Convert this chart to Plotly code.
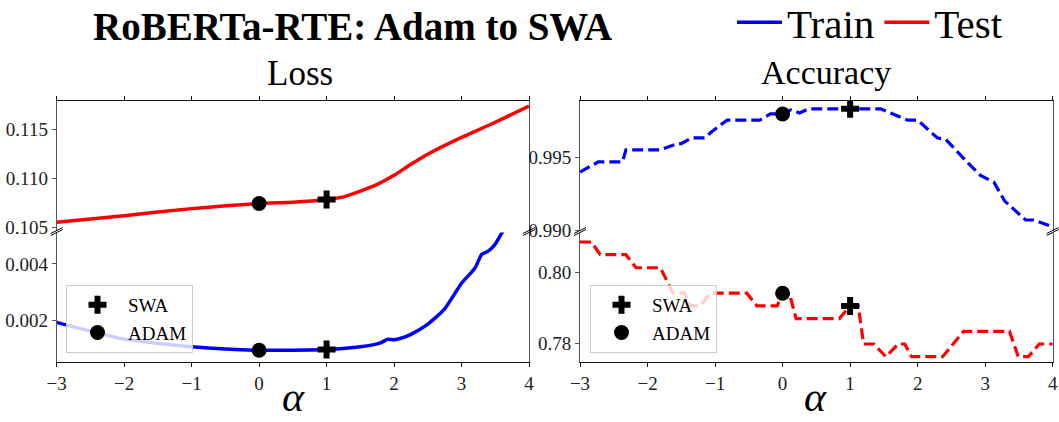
import plotly.graph_objects as go

# ---------------- data ----------------
loss_test_alpha = [-3, -2, -1, 0, 0.5, 1, 1.25, 1.5, 1.75, 2, 2.25, 2.5, 3, 3.5, 4]
loss_test = [0.10555, 0.10623, 0.10695, 0.10747, 0.10760, 0.10788, 0.10815, 0.10873,
             0.10942, 0.11034, 0.11147, 0.11250, 0.11421, 0.11575, 0.11740]

loss_train_alpha = [-3, -2.5, -2, -1.5, -1, -0.5, 0, 0.5, 1, 1.5, 1.8, 1.9, 2.0, 2.1,
                    2.25, 2.5, 2.75, 3.0, 3.2, 3.3, 3.4, 3.5, 3.6, 3.8, 4.0]
loss_train = [0.00194, 0.00163, 0.00135, 0.00120, 0.00108, 0.00100, 0.00096, 0.00096,
              0.00098, 0.00108, 0.00122, 0.00134, 0.00133, 0.00138, 0.00152, 0.00188,
              0.00242, 0.00332, 0.00386, 0.00434, 0.00446, 0.00470, 0.00510, 0.00570,
              0.00640]

acc_train_alpha = [-3, -2.73, -2.37, -2.32, -1.81, -1.56, -1.50, -1.35, -1.15, -1.05,
                   -0.82, -0.34, -0.18, 0, 0.12, 0.25, 0.38, 1.0, 1.45, 1.85, 2.0, 2.29,
                   2.42, 2.73, 2.93, 3.13, 3.29, 3.6, 3.72, 4.0]
acc_train = [0.99399, 0.99469, 0.99469, 0.99552, 0.99552, 0.99594, 0.99594, 0.99634,
             0.99634, 0.99676, 0.99756, 0.99756, 0.99798, 0.99798, 0.99826, 0.99805,
             0.99833, 0.99833, 0.99833, 0.99756, 0.99756, 0.99634, 0.99622, 0.99469,
             0.99376, 0.99329, 0.99200, 0.99070, 0.99070, 0.99023]

acc_test_alpha = [-3, -2.83, -2.70, -2.32, -2.17, -1.81, -1.62, -1.45, -1.37, -1.22,
                  -1.07, -0.53, -0.38, -0.08, 0, 0.10, 0.20, 0.84, 1.0, 1.12, 1.20,
                  1.35, 1.53, 1.71, 1.81, 1.91, 2.37, 2.52, 2.68, 3.36, 3.49, 3.64,
                  3.80, 4.0]
acc_test = [0.8087, 0.8087, 0.8051, 0.8051, 0.8014, 0.8014, 0.7942, 0.7942, 0.7906,
            0.7906, 0.7942, 0.7942, 0.7906, 0.7906, 0.7942, 0.7942, 0.7870, 0.7870,
            0.7906, 0.7906, 0.7798, 0.7798, 0.7762, 0.7798, 0.7798, 0.7762, 0.7762,
            0.7798, 0.7834, 0.7834, 0.7762, 0.7762, 0.7798, 0.7798]

adam_alpha = 0
swa_alpha = 1
adam_loss = {"test": 0.10747, "train": 0.00096}
swa_loss = {"test": 0.10788, "train": 0.00098}
adam_acc = {"train": 0.99798, "test": 0.7942}
swa_acc = {"train": 0.99833, "test": 0.7906}

x_ticks = [-3, -2, -1, 0, 1, 2, 3, 4]
title_text = "<b>RoBERTa-RTE: Adam to SWA</b>"
panel_titles = ["Loss", "Accuracy"]

# ---------------- layout geometry ----------------
W, H = 1059, 422
FONT = "Liberation Serif"
BLUE, RED = "#0000ff", "#ff0000"

def px_x(p):
    return p / W

def px_y(p):
    return 1 - p / H

left_dom = [px_x(56.7), px_x(529)]
right_dom = [px_x(580), px_x(1052.7)]
top_dom = [px_y(230.5), px_y(100.7)]
bot_dom = [px_y(361.7), px_y(232.5)]

fig = go.Figure()

# loss panel: top (test) on x/y, bottom (train) on x2/y2
fig.add_trace(go.Scatter(x=loss_train_alpha, y=loss_train, mode="lines", name="Train",
                         line=dict(color=BLUE, width=3.5, shape="spline", smoothing=0.6),
                         xaxis="x2", yaxis="y2", legend="legend", showlegend=True))
fig.add_trace(go.Scatter(x=loss_test_alpha, y=loss_test, mode="lines", name="Test",
                         line=dict(color=RED, width=3.5, shape="spline", smoothing=0.6),
                         xaxis="x", yaxis="y", legend="legend", showlegend=True))

# accuracy panel: top (train) on x3/y3, bottom (test) on x4/y4
fig.add_trace(go.Scatter(x=acc_train_alpha, y=acc_train, mode="lines", name="Train acc",
                         line=dict(color=BLUE, width=3.2, dash="11px,5px"),
                         xaxis="x3", yaxis="y3", showlegend=False))
fig.add_trace(go.Scatter(x=acc_test_alpha, y=acc_test, mode="lines", name="Test acc",
                         line=dict(color=RED, width=3.2, dash="11px,5px"),
                         xaxis="x4", yaxis="y4", showlegend=False))

cross = dict(symbol="cross", size=15, color="black")
circ = dict(symbol="circle", size=15, color="black")

# markers, loss panel
fig.add_trace(go.Scatter(x=[swa_alpha], y=[swa_loss["test"]], mode="markers", name="SWA",
                         marker=cross, xaxis="x", yaxis="y", legend="legend2"))
fig.add_trace(go.Scatter(x=[adam_alpha], y=[adam_loss["test"]], mode="markers", name="ADAM",
                         marker=circ, xaxis="x", yaxis="y", legend="legend2"))
fig.add_trace(go.Scatter(x=[swa_alpha], y=[swa_loss["train"]], mode="markers", name="SWA",
                         marker=cross, xaxis="x2", yaxis="y2", showlegend=False))
fig.add_trace(go.Scatter(x=[adam_alpha], y=[adam_loss["train"]], mode="markers", name="ADAM",
                         marker=circ, xaxis="x2", yaxis="y2", showlegend=False))
# markers, accuracy panel
fig.add_trace(go.Scatter(x=[swa_alpha], y=[swa_acc["train"]], mode="markers", name="SWA",
                         marker=cross, xaxis="x3", yaxis="y3", legend="legend3"))
fig.add_trace(go.Scatter(x=[adam_alpha], y=[adam_acc["train"]], mode="markers", name="ADAM",
                         marker=circ, xaxis="x3", yaxis="y3", legend="legend3"))
fig.add_trace(go.Scatter(x=[swa_alpha], y=[swa_acc["test"]], mode="markers", name="SWA",
                         marker=cross, xaxis="x4", yaxis="y4", showlegend=False))
fig.add_trace(go.Scatter(x=[adam_alpha], y=[adam_acc["test"]], mode="markers", name="ADAM",
                         marker=circ, xaxis="x4", yaxis="y4", showlegend=False))

HCOL = "#111111"
VCOL = "#555555"
tickfont = dict(family=FONT, size=19, color="#222222")

def xax(domain, anchor, top):
    d = dict(domain=domain, anchor=anchor, range=[-3, 4], tickvals=x_ticks,
             showline=True, linecolor=HCOL, linewidth=1, ticks="outside", ticklen=4,
             tickcolor=HCOL, showgrid=False, zeroline=False, tickfont=tickfont,
             mirror=False, automargin=False)
    if top:
        d.update(side="top", showticklabels=False)
    else:
        d.update(side="bottom", showticklabels=True)
    return d

def yax(domain, anchor, rng, dtick, fmt):
    return dict(domain=domain, anchor=anchor, range=rng, dtick=dtick, tick0=0,
                tickformat=fmt, showline=True, linecolor=VCOL, linewidth=1, mirror=True,
                ticks="outside", ticklen=4, tickcolor=VCOL, showgrid=False,
                zeroline=False, tickfont=tickfont, automargin=False)

inner_legend = dict(xanchor="left", yanchor="top", font=dict(family=FONT, size=19),
                    bgcolor="rgba(255,255,255,0.8)", bordercolor="#cccccc",
                    borderwidth=1, itemwidth=51)

fig.update_layout(
    width=W, height=H, autosize=False,
    margin=dict(l=0, r=0, t=0, b=0, pad=0, autoexpand=False),
    paper_bgcolor="white", plot_bgcolor="white",
    font=dict(family=FONT, color="black"),
    xaxis=xax(left_dom, "y", True),
    yaxis=yax(top_dom, "x", [0.10472, 0.11795], 0.005, ".3f"),
    xaxis2=xax(left_dom, "y2", False),
    yaxis2=yax(bot_dom, "x2", [0.000554, 0.00511], 0.002, ".3f"),
    xaxis3=xax(right_dom, "y3", True),
    yaxis3=yax(top_dom, "x3", [0.98998, 0.99889], 0.005, ".3f"),
    xaxis4=xax(right_dom, "y4", False),
    yaxis4=yax(bot_dom, "x4", [0.77479, 0.81139], 0.02, ".2f"),
    legend=dict(orientation="h", x=px_x(732), y=px_y(-11), xanchor="left", yanchor="top",
                font=dict(family=FONT, size=41), bgcolor="rgba(0,0,0,0)", itemwidth=45,
                tracegroupgap=0),
    legend2=dict(x=px_x(66), y=px_y(285), **inner_legend),
    legend3=dict(x=px_x(590), y=px_y(285), **inner_legend),
    showlegend=True,
)

# titles
ann = [
    dict(text=title_text, x=px_x(352), y=px_y(27), yanchor="middle",
         font=dict(family=FONT, size=39)),
    dict(text=panel_titles[0], x=px_x(300), y=px_y(73), yanchor="middle",
         font=dict(family=FONT, size=35)),
    dict(text=panel_titles[1], x=px_x(826), y=px_y(72), yanchor="middle",
         font=dict(family=FONT, size=34)),
    dict(text="<i>α</i>", x=px_x(293), y=0, yanchor="bottom",
         font=dict(family=FONT, size=42)),
    dict(text="<i>α</i>", x=px_x(816), y=0, yanchor="bottom",
         font=dict(family=FONT, size=42)),
]
for a in ann:
    fig.add_annotation(xref="paper", yref="paper", showarrow=False, xanchor="center",
                       **a)

# broken-axis diagonal marks
shapes = []
for dom in (left_dom, right_dom):
    for xs in dom:
        for yp in (230.5, 232.5):
            shapes.append(dict(type="line", xref="paper", yref="paper",
                               x0=xs - 6 / W, y0=px_y(yp + 3), x1=xs + 6 / W,
                               y1=px_y(yp - 3), line=dict(color="black", width=1)))
fig.update_layout(shapes=shapes)

fig.write_html("out.html")
